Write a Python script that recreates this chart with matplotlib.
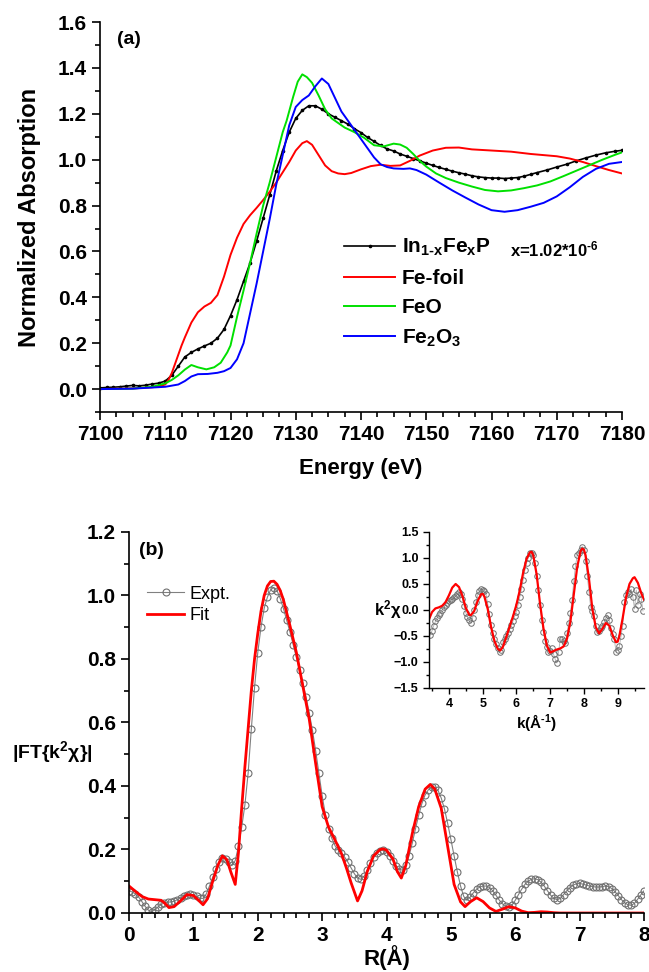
import numpy as np
import matplotlib.pyplot as plt
from matplotlib.ticker import MultipleLocator

plt.rcParams['font.family'] = ['Liberation Sans', 'DejaVu Sans']
plt.rcParams['mathtext.fontset'] = 'custom'
plt.rcParams['mathtext.rm'] = 'Liberation Sans'
plt.rcParams['mathtext.bf'] = 'Liberation Sans:bold'
plt.rcParams['mathtext.default'] = 'bf'

# ---- panel (a): XANES ----
E_sample = [7100, 7101, 7102, 7103, 7104, 7105, 7106, 7107, 7108, 7109,
            7110, 7111, 7112, 7113, 7114, 7115, 7116, 7117, 7118, 7119,
            7120, 7121, 7122, 7123, 7124, 7125, 7126, 7127, 7128, 7129,
            7130, 7131, 7132, 7133, 7134, 7135, 7136, 7137, 7138, 7139,
            7140, 7141, 7142, 7143, 7144, 7145, 7146, 7147, 7148, 7149,
            7150, 7151, 7152, 7153, 7154, 7155, 7156, 7157, 7158, 7159,
            7160, 7161, 7162, 7163, 7164, 7165, 7166, 7167,
            7168.5, 7170, 7171.5, 7173, 7174.5, 7176, 7177.5, 7179, 7180]
mu_sample = [0.005, 0.007, 0.008, 0.010, 0.013, 0.016, 0.014, 0.017, 0.022, 0.026,
             0.035, 0.060, 0.100, 0.140, 0.160, 0.175, 0.188, 0.200, 0.222, 0.260,
             0.320, 0.390, 0.470, 0.550, 0.645, 0.745, 0.845, 0.950, 1.040, 1.120,
             1.180, 1.215, 1.235, 1.235, 1.220, 1.200, 1.185, 1.170, 1.155, 1.135,
             1.118, 1.097, 1.080, 1.062, 1.047, 1.038, 1.025, 1.015, 1.005, 0.995,
             0.985, 0.975, 0.966, 0.958, 0.950, 0.943, 0.937, 0.930, 0.925, 0.922,
             0.920, 0.920, 0.918, 0.920, 0.922, 0.928, 0.936, 0.944,
             0.955, 0.968, 0.980, 0.995, 1.008, 1.020, 1.030, 1.037, 1.041]

E_foil = [7100, 7105, 7108, 7109, 7110, 7110.5, 7111, 7111.5, 7112, 7112.5,
          7113, 7114, 7115, 7116, 7117, 7118, 7119, 7120, 7121, 7122,
          7123, 7124, 7125, 7126, 7127, 7128, 7129, 7130, 7131, 7131.7,
          7132.5, 7133.5, 7134.5, 7135.5, 7136.5, 7137.5, 7138.5, 7140, 7141.5, 7143,
          7144.5, 7146, 7147.5, 7149, 7151, 7153, 7155, 7157, 7160, 7163,
          7166, 7170, 7172, 7174, 7176, 7178, 7180]
mu_foil = [0.0, 0.003, 0.008, 0.012, 0.02, 0.04, 0.07, 0.11, 0.15, 0.19,
           0.225, 0.29, 0.335, 0.36, 0.376, 0.41, 0.49, 0.585, 0.66, 0.72,
           0.758, 0.79, 0.824, 0.86, 0.90, 0.945, 0.99, 1.04, 1.072, 1.081,
           1.065, 1.02, 0.975, 0.95, 0.94, 0.937, 0.942, 0.958, 0.972, 0.978,
           0.973, 0.975, 0.995, 1.018, 1.04, 1.052, 1.053, 1.045, 1.04, 1.035,
           1.025, 1.015, 1.005, 0.99, 0.972, 0.955, 0.94]

E_feo = [7100, 7105, 7108, 7110, 7111, 7112, 7113, 7114, 7115, 7116.3,
         7117.5, 7118.5, 7119.5, 7120, 7121, 7122, 7123, 7124, 7125, 7126,
         7127, 7128, 7128.6, 7129.6, 7130.3, 7131, 7131.7, 7132.5, 7133.5, 7134.5,
         7135.5, 7136.5, 7137.5, 7139, 7140.5, 7142, 7143.5, 7145, 7146, 7147,
         7148, 7149, 7150, 7151.5, 7153, 7155, 7157, 7159, 7161, 7163,
         7165, 7167, 7169, 7171, 7173, 7175, 7177, 7179, 7180]
mu_feo = [0.0, 0.002, 0.01, 0.025, 0.04, 0.06, 0.085, 0.105, 0.095, 0.086,
          0.095, 0.115, 0.16, 0.19, 0.315, 0.43, 0.55, 0.678, 0.80, 0.90,
          1.01, 1.12, 1.17, 1.274, 1.34, 1.372, 1.36, 1.335, 1.28, 1.22,
          1.18, 1.16, 1.14, 1.12, 1.095, 1.063, 1.058, 1.070, 1.066, 1.052,
          1.025, 0.995, 0.97, 0.94, 0.92, 0.90, 0.883, 0.868, 0.862, 0.866,
          0.876, 0.888, 0.905, 0.928, 0.952, 0.976, 1.0, 1.022, 1.032]

E_fe2o3 = [7100, 7105, 7110, 7112, 7113, 7114, 7115, 7116.5, 7118, 7119,
           7120, 7121, 7122, 7123, 7124, 7125, 7126, 7127, 7128, 7129,
           7130, 7131, 7132, 7133, 7134, 7135, 7136, 7137, 7138, 7139,
           7140, 7141, 7142, 7143, 7144, 7145, 7146.5, 7147.5, 7148.5, 7150,
           7152, 7154, 7156, 7158, 7160, 7162, 7164, 7166, 7168, 7170,
           7172, 7174, 7176, 7178, 7180]
mu_fe2o3 = [0.0, 0.002, 0.01, 0.02, 0.035, 0.055, 0.065, 0.066, 0.071, 0.078,
            0.092, 0.13, 0.20, 0.33, 0.46, 0.60, 0.74, 0.89, 1.02, 1.15,
            1.23, 1.26, 1.28, 1.32, 1.354, 1.33, 1.27, 1.21, 1.17, 1.13,
            1.09, 1.05, 1.01, 0.98, 0.968, 0.962, 0.96, 0.962, 0.955, 0.935,
            0.90, 0.866, 0.835, 0.805, 0.78, 0.773, 0.78, 0.795, 0.812, 0.84,
            0.88, 0.925, 0.96, 0.982, 0.99]

# ---- panel (b): Fourier transform ----
expt_ft = [0.070, 0.066, 0.060, 0.050, 0.036, 0.021, 0.009, 0.004, 0.010, 0.019,
           0.027, 0.032, 0.034, 0.035, 0.037, 0.042, 0.048, 0.054, 0.058, 0.060,
           0.057, 0.052, 0.046, 0.046, 0.060, 0.085, 0.113, 0.140, 0.160, 0.172,
           0.170, 0.160, 0.150, 0.165, 0.210, 0.270, 0.340, 0.440, 0.580, 0.710,
           0.820, 0.900, 0.960, 0.995, 1.018, 1.025, 1.015, 0.990, 0.958, 0.922,
           0.885, 0.845, 0.805, 0.765, 0.725, 0.680, 0.630, 0.575, 0.510, 0.440,
           0.370, 0.310, 0.265, 0.235, 0.212, 0.198, 0.188, 0.176, 0.160, 0.142,
           0.124, 0.110, 0.106, 0.115, 0.135, 0.158, 0.177, 0.190, 0.196, 0.197,
           0.191, 0.180, 0.165, 0.148, 0.137, 0.135, 0.150, 0.180, 0.220, 0.265,
           0.308, 0.345, 0.372, 0.388, 0.396, 0.396, 0.386, 0.362, 0.328, 0.282,
           0.232, 0.180, 0.130, 0.085, 0.052, 0.040, 0.050, 0.064, 0.075, 0.082,
           0.085, 0.085, 0.080, 0.070, 0.056, 0.041, 0.029, 0.021, 0.019, 0.025,
           0.040, 0.058, 0.075, 0.090, 0.100, 0.106, 0.108, 0.105, 0.097, 0.085,
           0.070, 0.056, 0.046, 0.042, 0.046, 0.058, 0.070, 0.080, 0.088, 0.092,
           0.093, 0.091, 0.088, 0.085, 0.083, 0.082, 0.082, 0.083, 0.085, 0.083,
           0.077, 0.067, 0.055, 0.042, 0.032, 0.026, 0.024, 0.030, 0.043, 0.057,
           0.070]
R_expt = np.linspace(0, 8, len(expt_ft))

R_fit = [0, 0.1, 0.2, 0.3, 0.4, 0.5, 0.55, 0.62, 0.7, 0.8,
         0.9, 1.0, 1.08, 1.15, 1.22, 1.3, 1.38, 1.45, 1.52, 1.58,
         1.65, 1.7, 1.75, 1.8, 1.85, 1.9, 1.95, 2.0, 2.05, 2.1,
         2.15, 2.2, 2.25, 2.3, 2.35, 2.4, 2.5, 2.6, 2.7, 2.8,
         2.9, 3.0, 3.1, 3.2, 3.3, 3.38, 3.45, 3.55, 3.62, 3.7,
         3.8, 3.9, 3.95, 4.0, 4.1, 4.17, 4.23, 4.3, 4.4, 4.5,
         4.6, 4.68, 4.75, 4.85, 4.95, 5.05, 5.15, 5.22, 5.3, 5.4,
         5.5, 5.6, 5.7, 5.8, 5.9, 6.0, 6.1, 6.2, 6.3, 6.4,
         6.5, 6.6, 6.7, 6.8, 7.0, 7.5, 8.0]
fit_ft = [0.085, 0.068, 0.052, 0.044, 0.042, 0.040, 0.032, 0.017, 0.020, 0.038,
          0.058, 0.055, 0.040, 0.026, 0.045, 0.10, 0.15, 0.18, 0.168, 0.13,
          0.09, 0.19, 0.33, 0.46, 0.58, 0.70, 0.80, 0.88, 0.95, 1.0,
          1.03, 1.044, 1.045, 1.035, 1.015, 0.985, 0.905, 0.82, 0.715, 0.61,
          0.47, 0.335, 0.27, 0.23, 0.187, 0.14, 0.095, 0.038, 0.07, 0.13,
          0.18, 0.20, 0.202, 0.198, 0.17, 0.13, 0.11, 0.15, 0.25, 0.335,
          0.39, 0.405, 0.39, 0.33, 0.21, 0.09, 0.035, 0.02, 0.035, 0.048,
          0.036, 0.016, 0.005, 0.012, 0.02, 0.016, 0.006, 0.001, 0.002, 0.004,
          0.003, 0.001, 0.0, 0.0, 0.0, 0.0, 0.0]

# ---- inset: k-space ----
expt_k = [-0.48, -0.40, -0.30, -0.22, -0.15, -0.10, -0.05, 0.00, 0.05, 0.10, 0.14,
          0.17, 0.19, 0.21, 0.24, 0.27, 0.31, 0.34, 0.31, 0.22, 0.08,
          -0.05, -0.14, -0.20, -0.26, -0.16, 0.00, 0.15, 0.28, 0.36, 0.40,
          0.39, 0.36, 0.30, 0.12, -0.08, -0.28, -0.44, -0.56, -0.66, -0.74,
          -0.80, -0.76, -0.62, -0.55, -0.50, -0.44, -0.37, -0.29, -0.21, -0.12,
          -0.03, 0.10, 0.25, 0.40, 0.58, 0.76, 0.90, 1.00, 1.10, 1.10,
          1.05, 0.90, 0.65, 0.38, 0.10, -0.20, -0.42, -0.60, -0.72, -0.80,
          -0.78, -0.74, -0.85, -0.95, -1.02, -0.80, -0.56, -0.56, -0.60, -0.64,
          -0.45, -0.25, -0.05, 0.20, 0.55, 0.85, 1.05, 1.10, 1.15, 1.22,
          1.15, 0.95, 0.65, 0.35, 0.05, -0.02, -0.12, -0.30, -0.42, -0.40,
          -0.35, -0.30, -0.24, -0.15, -0.10, -0.20, -0.35, -0.46, -0.56, -0.80,
          -0.76, -0.70, -0.50, -0.30, 0.15, 0.28, 0.35, 0.30, 0.40, 0.25,
          0.02, 0.38, 0.10, 0.30, 0.22, -0.02]
k_expt = np.linspace(3.45, 9.75, len(expt_k))

k_fit = [3.41, 3.5, 3.6, 3.7, 3.8, 3.9, 4.0, 4.1, 4.2, 4.3,
         4.4, 4.5, 4.6, 4.65, 4.75, 4.85, 4.95, 5.0, 5.05, 5.15,
         5.25, 5.35, 5.45, 5.52, 5.6, 5.7, 5.8, 5.9, 6.0, 6.1,
         6.2, 6.3, 6.4, 6.45, 6.5, 6.6, 6.7, 6.8, 6.9, 7.0,
         7.1, 7.2, 7.3, 7.4, 7.5, 7.6, 7.7, 7.8, 7.9, 7.95,
         8.0, 8.05, 8.15, 8.25, 8.35, 8.45, 8.55, 8.65, 8.75, 8.85,
         8.95, 9.0, 9.05, 9.15, 9.25, 9.35, 9.45, 9.5, 9.6, 9.7, 9.78]
fit_k = [-0.18, -0.04, 0.03, 0.05, 0.08, 0.15, 0.28, 0.43, 0.50, 0.44,
         0.27, 0.04, -0.09, -0.10, -0.02, 0.17, 0.30, 0.31, 0.26, 0.02,
         -0.33, -0.60, -0.75, -0.78, -0.71, -0.52, -0.32, -0.12, 0.10, 0.38,
         0.72, 0.98, 1.11, 1.12, 1.05, 0.68, 0.12, -0.35, -0.68, -0.82,
         -0.79, -0.76, -0.74, -0.70, -0.55, -0.22, 0.30, 0.82, 1.13, 1.18,
         1.16, 1.05, 0.60, 0.02, -0.33, -0.45, -0.36, -0.25, -0.30, -0.48,
         -0.62, -0.61, -0.50, -0.15, 0.25, 0.50, 0.61, 0.63, 0.52, 0.32, 0.20]


def style_axes(ax, size, lw=1.2):
    ax.spines['top'].set_visible(False)
    ax.spines['right'].set_visible(False)
    ax.spines['left'].set_linewidth(lw)
    ax.spines['bottom'].set_linewidth(lw)
    ax.tick_params(which='both', direction='out', width=lw, labelsize=size)
    ax.tick_params(which='major', length=6)
    ax.tick_params(which='minor', length=3.5)
    for lab in ax.get_xticklabels() + ax.get_yticklabels():
        lab.set_fontweight('bold')


fig = plt.figure(figsize=(6.49, 9.72), dpi=100)

# panel (a)
ax1 = fig.add_axes([0.1541, 0.5761, 0.8043, 0.4012])
ax1.plot(E_sample, mu_sample, color='black', lw=1.2, marker='o', ms=1.6,
         label='In$_{1\u2010x}$Fe$_{x}$P')
ax1.plot(E_foil, mu_foil, color='#ff0000', lw=1.4, label='Fe-foil')
ax1.plot(E_feo, mu_feo, color='#00e000', lw=1.4, label='FeO')
ax1.plot(E_fe2o3, mu_fe2o3, color='#0000ff', lw=1.4, label='Fe$_{2}$O$_{3}$')
ax1.set_xlim(7100, 7180)
ax1.set_ylim(-0.1, 1.6)
ax1.set_yticks(np.arange(0, 1.61, 0.2))
ax1.xaxis.set_minor_locator(MultipleLocator(2.5))
ax1.yaxis.set_minor_locator(MultipleLocator(0.1))
style_axes(ax1, 15)
ax1.set_xlabel('Energy (eV)', fontsize=16, fontweight='bold', labelpad=10)
ax1.set_ylabel('Normalized Absorption', fontsize=17, fontweight='bold', labelpad=12)
ax1.text(0.033, 0.945, '(a)', transform=ax1.transAxes, fontsize=14, fontweight='bold')
ax1.legend(loc='upper left', bbox_to_anchor=(0.452, 0.47), frameon=False,
           prop={'size': 15, 'weight': 'bold'}, handlelength=2.45,
           handletextpad=0.3, labelspacing=0.5, borderaxespad=0)
ax1.text(0.786, 0.40, 'x=1.02*10$^{\u20106}$', transform=ax1.transAxes,
         fontsize=12, fontweight='bold')

# panel (b)
ax2 = fig.add_axes([0.1988, 0.0607, 0.7935, 0.392])
ax2.plot(R_expt, expt_ft, color='#808080', lw=0.8, marker='o', ms=5,
         mfc='none', mec='#707070', mew=0.8, label='Expt.')
ax2.plot(R_fit, fit_ft, color='#ff0000', lw=2, label='Fit')
ax2.set_xlim(0, 8)
ax2.set_ylim(0, 1.2)
ax2.xaxis.set_minor_locator(MultipleLocator(0.2))
ax2.yaxis.set_minor_locator(MultipleLocator(0.1))
style_axes(ax2, 15)
ax2.set_xlabel('R(Å)', fontsize=16, fontweight='bold', labelpad=0)
ax2.text(0.02, 0.94, '(b)', transform=ax2.transAxes, fontsize=14, fontweight='bold')
fig.text(0.018, 0.2263, '|FT{k$^{2}$χ}|', fontsize=14, fontweight='bold', va='center')
ax2.legend(loc='upper left', bbox_to_anchor=(0.02, 0.878), frameon=False,
           prop={'size': 13}, handlelength=2.1, handletextpad=0.3,
           labelspacing=0.25, borderaxespad=0)

# inset
ax3 = fig.add_axes([0.661, 0.2922, 0.3313, 0.1605])
ax3.plot(k_expt, expt_k, color='#b0b0b0', lw=0.6, marker='o', ms=4,
         mfc='none', mec='#707070', mew=0.7)
ax3.plot(k_fit, fit_k, color='#ff0000', lw=1.6)
ax3.set_xlim(3.41, 9.78)
ax3.set_ylim(-1.5, 1.5)
ax3.set_xticks([4, 5, 6, 7, 8, 9])
ax3.set_yticks([-1.5, -1.0, -0.5, 0.0, 0.5, 1.0, 1.5])
ax3.xaxis.set_minor_locator(MultipleLocator(0.5))
ax3.yaxis.set_minor_locator(MultipleLocator(0.25))
style_axes(ax3, 9, lw=1.0)
ax3.tick_params(which='major', length=4)
ax3.tick_params(which='minor', length=2)
ax3.set_xlabel('k(Å$^{\u20101}$)', fontsize=11, fontweight='bold', labelpad=1)
ax3.set_ylabel('k$^{2}$χ', fontsize=12, fontweight='bold', rotation=0, labelpad=4, va='center')

fig.savefig('out.png', dpi=100)
